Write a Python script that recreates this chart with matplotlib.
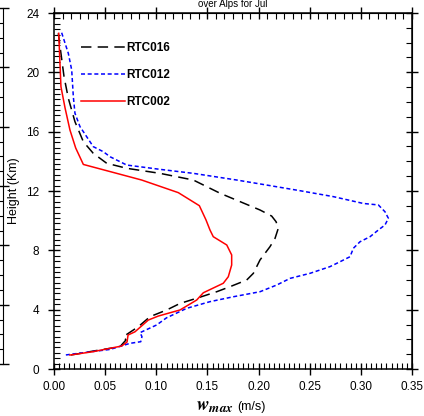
import matplotlib
matplotlib.use("Agg")
import matplotlib.pyplot as plt
from matplotlib.ticker import MultipleLocator

plt.rcParams["font.family"] = ["Liberation Sans", "DejaVu Sans"]
plt.rcParams["lines.scale_dashes"] = False

# w_max (m/s) and height (km), top of profile first
rtc016_w = [0.0042, 0.0098, 0.0140, 0.0205, 0.0287, 0.0384, 0.0515, 0.0711, 0.1036,
            0.1362, 0.1623, 0.2014, 0.2128, 0.2171, 0.2193, 0.2161, 0.2112, 0.2014,
            0.1949, 0.1884, 0.1721, 0.1591, 0.1395, 0.1232, 0.1102, 0.0939, 0.0824,
            0.0726, 0.0678, 0.0704, 0.0645, 0.0384, 0.0222, 0.0156]
rtc016_z = [22.63, 19.71, 18.25, 16.67, 15.32, 14.54, 13.87, 13.53, 13.19,
            12.74, 11.85, 10.72, 10.31, 9.93, 9.49, 8.81, 8.25, 7.35,
            6.45, 6.00, 5.55, 5.21, 4.77, 4.42, 3.98, 3.53, 2.85,
            2.40, 2.18, 1.96, 1.50, 1.21, 1.01, 0.94]

rtc012_w = [0.0075, 0.0140, 0.0173, 0.0189, 0.0205, 0.0254, 0.0384, 0.0482, 0.0548,
            0.0711, 0.1036, 0.1362, 0.1786, 0.2080, 0.2405, 0.2731, 0.3024, 0.3171,
            0.3236, 0.3269, 0.3236, 0.3171, 0.3090, 0.2992, 0.2927, 0.2894, 0.2796,
            0.2698, 0.2503, 0.2308, 0.2177, 0.2014, 0.1753, 0.1525, 0.1297, 0.1100,
            0.1004, 0.0841, 0.0860, 0.0848, 0.0743, 0.0548, 0.0287, 0.0108]
rtc012_z = [22.67, 21.28, 20.16, 18.36, 17.24, 16.34, 14.99, 14.65, 14.31,
            13.75, 13.46, 13.19, 12.74, 12.40, 12.02, 11.62, 11.16, 11.06,
            10.60, 10.16, 9.71, 9.37, 8.92, 8.58, 8.14, 7.57, 7.23,
            6.90, 6.45, 6.11, 5.66, 5.21, 4.87, 4.54, 4.09, 3.45,
            2.97, 2.45, 2.18, 1.84, 1.73, 1.32, 1.10, 0.94]

rtc002_w = [0.0046, 0.0068, 0.0108, 0.0156, 0.0212, 0.0287, 0.0857, 0.1215, 0.1421,
            0.1486, 0.1525, 0.1557, 0.1689, 0.1737, 0.1737, 0.1704, 0.1655, 0.1460,
            0.1395, 0.1232, 0.1020, 0.0922, 0.0792, 0.0724, 0.0714, 0.0662, 0.0384,
            0.0156]
rtc002_z = [22.63, 19.03, 17.60, 16.11, 14.90, 13.79, 12.74, 11.89, 11.01,
            10.05, 9.37, 8.92, 8.36, 7.69, 7.01, 6.22, 5.78, 5.14,
            4.65, 3.98, 3.57, 3.30, 2.51, 2.29, 1.82, 1.55, 1.17,
            0.94]

x_ticks = [0.0, 0.05, 0.10, 0.15, 0.20, 0.25, 0.30, 0.35]
y_ticks = [0, 4, 8, 12, 16, 20, 24]

W, H = 424, 416
fig = plt.figure(figsize=(W / 100, H / 100), dpi=100)
ax = fig.add_axes([54 / W, 47 / H, 358 / W, 356 / H])

ax.plot(rtc016_w, rtc016_z, color="black", lw=1.1, dashes=(7.5, 4.5), label="RTC016")
ax.plot(rtc012_w, rtc012_z, color="blue", lw=1.1, dashes=(2.9, 1.9), label="RTC012")
ax.plot(rtc002_w, rtc002_z, color="red", lw=1.1, label="RTC002")

ax.set_xlim(0, 0.35)
ax.set_ylim(0, 24)
ax.set_xticks(x_ticks)
ax.set_xticklabels([f"{v:.2f}" for v in x_ticks])
ax.set_yticks(y_ticks)
ax.xaxis.set_minor_locator(MultipleLocator(0.005))
ax.yaxis.set_minor_locator(MultipleLocator(4 / 11))
ax.tick_params(which="major", direction="inout", length=9, width=1, labelsize=8.5)
ax.tick_params(axis="x", which="major", pad=4)
ax.tick_params(axis="y", which="major", pad=6)
ax.tick_params(which="minor", direction="in", length=4, width=0.8)
for sp in ax.spines.values():
    sp.set_linewidth(1.1)

# top / right axes carry their own minor spacing
top = ax.secondary_xaxis("top")
top.set_xticks(x_ticks)
top.xaxis.set_minor_locator(MultipleLocator(0.05 / 6))
top.tick_params(which="major", direction="inout", length=9, width=1, labeltop=False)
top.tick_params(which="minor", direction="in", length=4, width=0.8)
right = ax.secondary_yaxis("right")
right.set_yticks(y_ticks)
right.yaxis.set_minor_locator(MultipleLocator(1))
right.tick_params(which="major", direction="inout", length=9, width=1, labelright=False)
right.tick_params(which="minor", direction="in", length=4, width=0.8)

ax.legend(loc="upper left", bbox_to_anchor=(0.0746, 0.918), frameon=False,
          borderpad=0, borderaxespad=0, handlelength=3.75, handletextpad=0.15,
          labelspacing=1.28, prop={"weight": "bold", "size": 8.5})

# neighbouring panel's right edge peeking in at the far left
nb = fig.add_axes([-0.5, 52 / H, 0.5 + 3 / W, 356 / H])
nb.set_facecolor("none")
nb.set_ylim(0, 24)
nb.set_yticks(y_ticks)
nb.yaxis.set_minor_locator(MultipleLocator(1))
nb.yaxis.tick_right()
nb.tick_params(axis="y", which="major", direction="inout", length=9, width=1, labelright=False)
nb.tick_params(axis="y", which="minor", direction="in", length=4, width=0.8)
nb.set_xticks([])
for side in ("left", "top", "bottom"):
    nb.spines[side].set_visible(False)

fig.text(233 / W, 1 - 7 / H, "over Alps for Jul", ha="center", va="baseline", fontsize=7)
fig.text(14 / W, (H - 191) / H, "Height (Km)", rotation=90, ha="center", va="center", fontsize=9)
fig.text(234 / W, 6 / H, r"$\mathbfit{w}_{\mathbfit{max}}$", ha="right", va="baseline",
         fontsize=13.5, math_fontfamily="stix")
fig.text(237 / W, 6 / H, "(m/s)", ha="left", va="baseline", fontsize=9)

fig.savefig("out.png", dpi=100)
